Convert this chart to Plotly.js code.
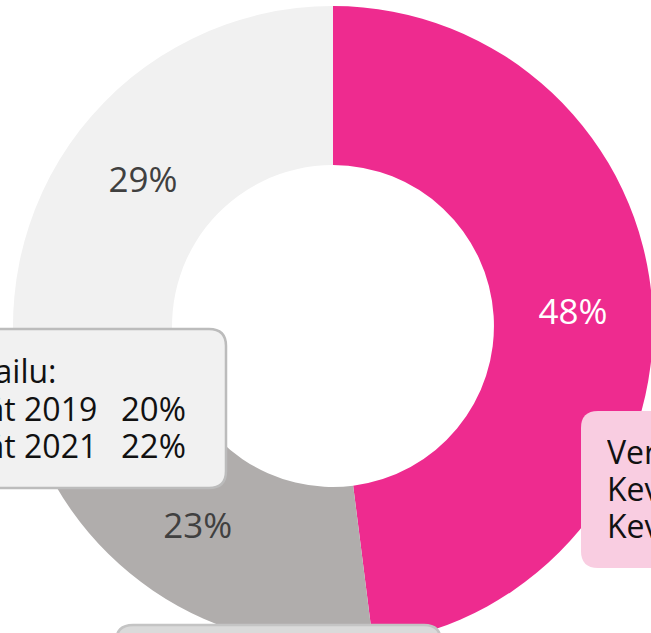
<!DOCTYPE html>
<html>
<head>
<meta charset="utf-8">
<script src="https://cdn.plot.ly/plotly-3.0.1.min.js"></script>
<style>
html, body { margin: 0; padding: 0; overflow: hidden; background: #ffffff; }
#chart { width: 700px; height: 700px; }
</style>
</head>
<body>
<div id="chart"></div>
<script>
// Data
var sliceLabels = ['Vertailu A', 'Vertailu B', 'Vertailu C'];
var sliceValues = [48, 23, 29];
var sliceColors = ['#ee2b8f', '#b0adac', '#f1f1f1'];
var sliceTextColors = ['#ffffff', '#404040', '#404040'];

var leftBoxLines = ['Vertailu:', 'Kevät 2019', 'Kevät 2021'];
var leftBoxValues = ['', '20%', '22%'];
var pinkBoxLines = ['Vertailu:', 'Kevät 2019', 'Kevät 2021'];
var pinkBoxValues = ['', '45%', '47%'];

// Layout helpers (pixel -> paper, figure is 700x700, window crops to 651x633)
var W = 700, H = 700;
function px(x) { return x / W; }
function py(y) { return 1 - y / H; }
function roundRect(x0, y0, x1, y1, r) {
  return 'M ' + px(x0 + r) + ' ' + py(y0) +
    ' L ' + px(x1 - r) + ' ' + py(y0) +
    ' Q ' + px(x1) + ' ' + py(y0) + ' ' + px(x1) + ' ' + py(y0 + r) +
    ' L ' + px(x1) + ' ' + py(y1 - r) +
    ' Q ' + px(x1) + ' ' + py(y1) + ' ' + px(x1 - r) + ' ' + py(y1) +
    ' L ' + px(x0 + r) + ' ' + py(y1) +
    ' Q ' + px(x0) + ' ' + py(y1) + ' ' + px(x0) + ' ' + py(y1 - r) +
    ' L ' + px(x0) + ' ' + py(y0 + r) +
    ' Q ' + px(x0) + ' ' + py(y0) + ' ' + px(x0 + r) + ' ' + py(y0) + ' Z';
}

var cx = 333, cy = 326, R = 320;

var trace = {
  type: 'pie',
  labels: sliceLabels,
  values: sliceValues,
  sort: false,
  direction: 'clockwise',
  rotation: 0,
  hole: 0.503,
  marker: { colors: sliceColors, line: { width: 0 } },
  textinfo: 'percent',
  textposition: 'inside',
  insidetextorientation: 'horizontal',
  textfont: { family: 'Open Sans, sans-serif', size: 35, color: sliceTextColors },
  hoverinfo: 'none',
  showlegend: false,
  domain: { x: [px(cx - R), px(cx + R)], y: [py(cy + R), py(cy - R)] }
};

var textFont = { family: 'Open Sans, sans-serif', size: 32, color: '#111111' };
var valueFont = { family: 'Open Sans, sans-serif', size: 33, color: '#111111' };
var annotations = [];
var lineY = [370, 408, 445];
leftBoxLines.forEach(function (t, i) {
  annotations.push({ xref: 'paper', yref: 'paper', x: px(-68), y: py(lineY[i]),
    xanchor: 'left', yanchor: 'middle', text: t, showarrow: false, font: textFont,
    borderpad: 0, height: 34 });
  if (leftBoxValues[i]) {
    annotations.push({ xref: 'paper', yref: 'paper', x: px(120), y: py(lineY[i]),
      xanchor: 'left', yanchor: 'middle', text: leftBoxValues[i], showarrow: false,
      font: valueFont, borderpad: 0, height: 34 });
  }
});
var pinkY = [451, 488, 525];
pinkBoxLines.forEach(function (t, i) {
  annotations.push({ xref: 'paper', yref: 'paper', x: px(606), y: py(pinkY[i]),
    xanchor: 'left', yanchor: 'middle', text: t, showarrow: false, font: textFont,
    borderpad: 0, height: 34 });
  if (pinkBoxValues[i]) {
    annotations.push({ xref: 'paper', yref: 'paper', x: px(795), y: py(pinkY[i]),
      xanchor: 'left', yanchor: 'middle', text: pinkBoxValues[i], showarrow: false,
      font: valueFont, borderpad: 0, height: 34 });
  }
});

var shapes = [
  { type: 'path', xref: 'paper', yref: 'paper', layer: 'above',
    path: roundRect(-60, 329, 226, 488, 17),
    fillcolor: '#f1f1f1', line: { color: '#bcbcbc', width: 2.5 } },
  { type: 'path', xref: 'paper', yref: 'paper', layer: 'above',
    path: roundRect(581, 411, 760, 568, 17),
    fillcolor: '#f9cde1', line: { color: '#f9cde1', width: 0 } },
  { type: 'path', xref: 'paper', yref: 'paper', layer: 'above',
    path: roundRect(116, 625, 441, 720, 17),
    fillcolor: '#dadada', line: { color: '#c4c4c4', width: 2.5 } }
];

var layout = {
  width: W, height: H,
  margin: { l: 0, r: 0, t: 0, b: 0, pad: 0 },
  paper_bgcolor: '#ffffff',
  plot_bgcolor: '#ffffff',
  font: { family: 'Open Sans, sans-serif' },
  shapes: shapes,
  annotations: annotations
};

Plotly.newPlot('chart', [trace], layout, { displayModeBar: false, staticPlot: true });
</script>
</body>
</html>
